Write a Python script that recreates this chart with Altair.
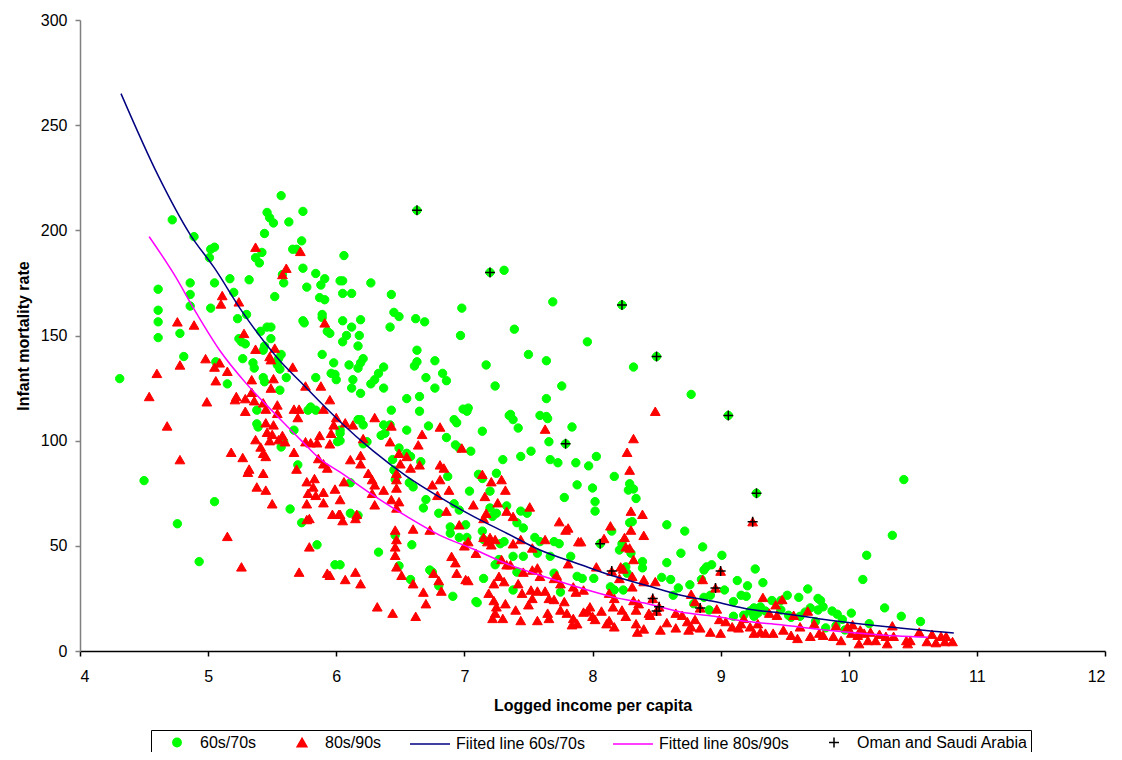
import altair as alt
import pandas as pd

# ---- data (x = logged income per capita, y = infant mortality rate) ----
green_pts = [
    (4.31,129.5),(4.50,81),(4.76,60.5),(4.93,42.5),(5.05,71),(4.72,205),(4.89,197),(4.61,172),(4.61,162),
    (4.61,156.5),(4.61,149),(4.86,175),(4.86,169.5),(4.86,164),(4.78,151),(4.81,140),
    (5.57,216.5),(5.74,209),(5.46,208.5),(5.48,206),(5.51,203.5),(5.63,204),(5.44,198.5),(5.73,195),
    (5.66,191),(5.69,191),(5.02,191),(5.05,192),(5.01,187),(5.37,187),(5.40,184.5),(5.42,189.5),(5.74,182),
    (5.84,179.5),(5.91,177),(5.88,174),(5.77,173),(6.03,176),(5.58,179),(5.59,175),(5.32,176.5),(5.17,177),
    (5.05,175),(5.20,170.5),(5.02,163),(5.52,168.5),(5.87,168),(5.91,167),(5.23,158),(5.30,160),(5.89,160),
    (5.89,158.5),(5.74,157),(5.75,156),(5.41,152),(5.46,154),(5.49,154),(5.49,148.5),(5.24,148.5),(5.26,147),
    (5.29,146),(5.44,145),(5.43,143),(5.27,139),(5.35,137),(5.36,134.5),(5.57,141),(5.55,139),(5.54,136),
    (5.43,130),(5.44,128),(5.56,124),(5.56,134),(5.61,130),(5.15,127),(5.06,137.5),(5.89,141),(5.98,137),
    (5.95,151),(5.93,152),(5.99,131.5),(5.96,132),(5.84,130),(6.0,129),(5.80,116),(5.84,114.5),(5.38,114.5),
    (6.63,209.5),(7.20,180),(7.31,181),(6.06,188),(6.05,176),(6.05,170),(6.12,170),(6.27,175),(6.43,169.5),
    (7.69,166),(6.98,163),(6.45,161),(6.49,159),(6.62,158),(6.69,156.5),(6.05,157),(6.19,157.5),(6.12,154),
    (6.42,154),(7.39,153),(6.97,150),(6.08,150),(6.18,150),(6.05,147),(6.17,145),(6.63,143),(7.50,141),
    (7.64,138),(7.17,136),(6.77,138),(6.21,139),(6.19,137),(6.17,134.5),(6.10,136),(6.37,135),(6.33,132),
    (6.30,129),(6.27,127),(6.63,137.5),(6.61,135.5),(6.70,130),(6.83,132),(6.86,128.5),(6.77,125),(6.13,129),
    (6.12,125),(6.19,122.5),(6.37,125),(7.24,126),(7.76,126),(7.64,120),(6.55,120),(6.65,121),(6.65,114),
    (6.99,115),(7.03,115.5),(7.59,112),(7.64,111.5),(7.35,112),
    (8.23,164.5),(7.96,147),(8.50,140),(8.32,135),(8.77,122),(9.06,112),(8.03,92.5),(7.97,88),(8.17,83),
    (8.0,77.5),(8.29,79.5),(8.32,77),(8.28,76.5),(10.43,81.5),(9.28,75),(8.34,72.5),
    (10.34,55),(10.14,45.5),(10.11,34),(10.28,20.5),(10.41,16.5),(10.56,14),(10.16,13),(10.02,18),(9.87,19),
    (9.91,17.5),(9.95,15),(9.80,21),(9.78,24),
    (8.02,71),(8.02,66.5),(8.29,61),(8.31,61.5),(8.15,57),(8.06,51),(8.21,48),(8.23,51),(8.30,46.5),
    (8.39,42.5),(8.39,39.5),(8.26,40),(8.27,37),(8.01,34.5),(8.14,30.5),(8.17,29),(8.24,29),(8.58,60),
    (8.72,57),(8.86,49.5),(9.01,45.5),(8.69,46.5),(8.58,42),(8.54,35),(8.61,34),(8.89,40),(8.93,41),
    (8.87,38.5),(9.27,39),(8.85,34),(8.76,31.5),(8.67,30),(8.63,26.5),(9.13,33.5),(9.21,31),(9.33,32.5),
    (9.03,29),(8.87,25.5),(8.92,26.5),(8.79,22.5),(8.91,19.5),(9.10,23.5),(9.16,26.5),(9.20,26),(9.26,20.5),
    (9.31,21),(9.23,19),(9.29,18),(9.35,19),(9.10,16.5),(9.52,26.5),(9.61,25.5),(9.68,29.5),(9.76,25),
    (9.47,19.5),(9.53,17),(9.62,16.5),(9.70,20.5),(9.76,19.5),(9.40,24),(9.18,17),(9.26,16.5),(7.92,34.5),
    (6.43,114.5),(6.17,110),(6.21,107.5),(6.19,110),(6.37,107.5),(6.42,107.5),(6.35,102.5),(6.38,103.5),
    (6.21,98.5),(6.24,99.5),(6.55,105),(6.72,107),(6.86,101.5),(6.92,110),(6.94,108.5),(7.02,114),(6.93,98),
    (6.96,96.5),(7.05,95),(7.14,104.5),(7.36,112.5),(7.38,110),(7.42,106),(7.65,110.5),(7.84,106.5),
    (7.66,99.5),(7.52,95),(7.44,92.5),(7.30,91),(7.67,91),(7.73,89.5),(7.87,89.5),(7.78,73),(7.88,79),
    (7.79,98.5),(6.03,103.5),(6.03,100),(6.44,91),(6.45,86),(6.47,83),(6.46,81.5),(6.49,96.5),(6.55,94),
    (6.58,92.5),(6.66,90),(6.57,80),(6.60,78),(6.70,72),(6.68,68),(6.87,83),(7.11,84),(7.14,82),(7.25,84.5),
    (7.04,76),(7.20,76),(6.92,70),(6.96,67),(6.80,65.5),(6.89,59),(6.89,56),(6.96,54),(7.01,60),(7.02,54),
    (7.14,57),(7.15,53),(7.20,68),(7.25,65.5),(7.22,64),(7.33,69),(7.41,61),(7.46,58.5),(7.44,66.5),
    (7.49,65.5),(7.31,52),(7.28,51),(7.38,45),(7.46,45),(7.55,54),(7.59,52),(7.57,46.5),(7.70,52),(7.74,51),
    (7.67,45),(7.83,45),(7.24,41),(7.27,43.5),(7.41,37.5),(7.70,37),(7.75,28),(7.88,35.5),(7.38,29),
    (7.15,34.5),(7.10,23),(7.09,23.5),(6.91,26),(6.75,37.5),(6.73,38.5),(6.80,31),(6.58,34),(6.33,47),
    (6.59,50.5),(6.46,55),(6.49,40.5),(6.11,80),(6.11,65.5),(6.17,64.5),(6.03,41),
    (5.38,108),(5.39,106.5),(5.67,105),(5.57,97),(5.59,99.5),(5.70,88.5),(5.64,67.5),(5.73,61),(5.85,50.5),
    (5.99,41),(6.01,99.5),(6.03,105),(5.78,114.5),
    (9.47,24),(9.55,16),(9.66,18.5),(9.74,14),(9.82,11),(9.90,12),(9.97,10),
]

red_pts = [
    (5.37,192),(5.72,190),(5.61,182),(5.58,179),(5.11,169),(5.10,165),(5.24,166),(4.76,156.5),(4.89,155),
    (5.91,156),(5.28,151),(5.37,143.5),(5.52,144),(5.48,140),(5.49,138.5),(5.66,135),(4.98,139),(4.78,136),
    (5.09,137),(5.05,135),(5.15,133),(4.60,132),(5.06,128.5),(5.34,129),(5.51,129.5),(5.49,125),(5.76,126),
    (5.88,126),(4.54,121),(4.99,118.5),(5.22,121),(5.21,119.5),(5.29,120),(5.34,123),(5.36,119),(5.43,118),
    (5.45,115),(5.54,117),(5.54,113),(5.67,115),(5.71,115),(5.70,111),(5.29,114),(5.90,115),(5.95,119.5),
    (6.0,111),
    (4.68,107),(4.78,91),(5.18,94.5),(5.27,92),(5.32,86.5),(5.31,85),(5.43,84.5),(5.38,78),(5.45,76.5),
    (5.50,70),(5.15,54.5),(5.26,40),(5.71,37.5),(5.93,37),(5.79,49.5),(5.77,62.5),(5.79,63),(5.77,70),
    (5.90,70.5),(5.97,65),(6.02,65),(5.77,80.5),(5.83,82),(5.82,78),(5.78,75),(5.84,74),(5.90,75.5),
    (5.99,77),(5.69,86.5),(5.67,94.5),(5.45,108.5),(5.51,107.5),(5.46,104),(5.50,103),(5.48,100),
    (5.55,100.5),(5.58,102.5),(5.60,99.5),(5.37,100.5),(5.41,97),(5.43,94),(5.45,92.5),(5.76,99.5),
    (5.80,99),(5.85,99),(5.87,102.5),(5.95,98.5),(5.96,103.5),(5.98,107.5),(5.86,91.5),(5.90,89),(5.93,87),
    (6.07,108.5),(6.13,107.5),(6.30,111),(6.21,101),(6.43,107),(6.42,99.5),(6.67,103),(6.64,98),(6.81,106.5),
    (6.98,96.5),(7.63,105.5),(6.11,91),(6.19,93),(6.19,89),(6.49,94),(6.55,92.5),(6.50,89),(6.58,87),
    (6.65,88.5),(6.25,84.5),(6.28,81.5),(6.30,79),(6.37,76.5),(6.28,75),(6.06,80.5),(6.47,84.5),(6.47,81.5),
    (6.47,77.5),(6.43,72),(6.49,71),(6.47,68),(6.30,69.5),(6.81,88.5),(6.84,87),(6.75,79),(6.81,81.5),
    (6.88,76.5),(6.79,74),(6.86,66.5),(6.73,57.5),(6.60,58),(6.16,65),(6.15,63),(6.46,57.5),(6.47,53),
    (6.46,49.5),(6.46,45.5),(6.47,40),(6.51,36),(6.07,34),(6.19,32),(6.32,21),(6.44,18),(6.62,16.5),
    (6.60,32),(6.68,28),(6.70,22.5),(6.76,37),(6.80,33.5),(6.82,28.5),(6.90,45),(6.93,42),(6.94,37),
    (6.96,60),(7.0,50),(7.03,52),(7.09,46.5),(7.01,34),(7.03,33.5),(7.07,69.5),(7.14,84),(7.16,73.5),
    (7.21,80.5),(7.29,81.5),(7.32,76.5),(7.15,63),(7.17,65.5),(7.26,70.5),(7.33,66.5),(7.38,64),(7.51,68.5),
    (7.15,54),(7.18,52),(7.20,54),(7.24,53),(7.21,50.5),(7.29,43.5),(7.33,41),(7.36,41),(7.23,32),
    (7.27,35.5),(7.31,33),(7.19,27.5),(7.23,24),(7.25,21),(7.24,18),(7.30,15.5),(7.22,15.5),(7.42,32),
    (7.45,27.5),(7.52,29),(7.53,25),(7.57,28.5),(7.44,14.5),(7.57,14.5),(7.38,51),(7.44,53),(7.53,49),
    (7.63,53),(7.46,37.5),(7.53,38.5),(7.57,39.5),(7.59,35.5),(7.63,28.5),(7.66,25),(7.70,24.5),(7.65,18),
    (7.66,15.5),(7.70,34.5),(7.75,32),(7.72,36),(7.74,61.5),(7.79,57.5),(7.81,58.5),(7.81,41.5),(7.85,30.5),
    (7.87,28),(7.78,23.5),(7.80,18),(7.85,15.5),(7.88,13),(7.89,52),(6.03,72),(6.03,65),
    (8.49,114),(8.32,101),(8.27,94.5),(8.29,86),(8.30,66.5),(8.39,65),(8.14,59.5),(8.09,53.5),(8.25,54),
    (8.30,57.5),(8.40,55),(8.26,49.5),(8.29,49),(8.32,43.5),(8.22,40),(8.24,39),(8.03,40),(8.15,38),
    (8.21,34.5),(8.31,35.5),(8.31,30.5),(8.40,34),(8.40,33),(8.49,33),(7.93,29),(8.13,27.5),(8.17,25),
    (8.16,21),(7.98,21),(7.96,19),(8.0,16.5),(8.07,19),(8.23,19.5),(8.32,24),(8.36,22.5),(8.34,19.5),
    (8.47,25),(8.52,21),(8.50,19),(8.44,18),(8.45,17),(8.13,14.5),(8.17,11.5),(8.11,13),(8.26,16.5),
    (8.34,13),(8.35,9),(8.40,10.5),(8.58,13.5),(8.65,18),(8.70,17),(8.77,27),(8.74,14),(8.77,11.5),
    (8.75,10),(8.84,20.5),(8.80,23.5),(8.80,15),(8.86,34),(8.96,30),(9.0,38),(9.25,61.5),(8.97,20),
    (8.99,15),(9.0,8.5),(9.09,11.5),(9.14,11),(9.18,15.5),(9.23,11.5),(9.26,8.5),(9.31,9),(9.29,13),
    (9.33,25.5),(9.38,18),(9.44,17),(9.48,24.5),(9.43,22),(9.35,8.5),(9.41,8.5),(9.49,10),(9.55,7.5),
    (9.57,17),(9.62,11.5),(9.68,19),(9.73,13),(9.60,6),(9.70,7),(9.77,8.5),(7.91,52),
    (9.80,7.5),(9.90,12),(9.88,7),(9.94,5),(9.99,11.5),(10.03,12.5),(10.02,8.5),(10.07,7.5),(10.09,10),
    (10.12,8.5),(10.08,3.5),(10.15,5),(10.17,9),(10.21,5),(10.24,8),(10.29,7),(10.30,3.5),(10.35,7),
    (10.34,12),(10.45,5),(10.48,5),(10.46,3.5),(10.55,9),(10.61,4.5),(10.65,8),(10.68,4),(10.72,7),
    (10.76,7),(10.75,4.5),(10.81,4.5),
    (7.32,22.5),(7.40,19.5),(7.50,22),(7.75,19.5),(7.93,18.5),(8.02,15),(7.84,12.5),(8.53,10),(8.65,11),
    (8.84,11),(8.92,9),(9.04,14),(9.16,13),(5.95,36),(6.15,37.5),(6.05,62),
]

oman_pts = [
    (6.63,209.5),(7.20,180),(8.23,164.5),(8.50,140),(9.06,112),(7.79,98.5),(9.28,75),(9.25,61.5),
    (8.06,51),(9.0,38),(8.15,38),(8.96,30),(8.47,25),(8.84,20.5),(8.52,21),(8.50,19),
]

fit_6070 = [
    (4.32,265),(4.61,226),(4.86,198),(5.05,182),(5.27,161),(5.56,138),(5.72,128),(5.88,118),(6.03,109),
    (6.29,95),(6.55,83),(6.81,73),(7.07,64),(7.33,56),(7.59,48),(7.91,41),(8.17,35.5),(8.43,31),
    (8.69,26.5),(8.95,23.5),(9.21,20),(9.47,18),(9.75,15.5),(10.30,11.5),(10.82,8.5),
]

fit_8090 = [
    (4.54,197),(4.73,179.5),(4.91,160.5),(5.09,143),(5.30,127),(5.51,113.5),(5.72,100.5),(5.88,91),
    (6.03,85),(6.29,74),(6.55,64),(6.81,55),(7.07,48.5),(7.33,41.5),(7.59,36),(7.85,31),(8.17,25.5),
    (8.43,22.5),(8.69,18.5),(8.95,16.5),(9.21,14),(9.47,12.5),(9.75,10.5),(10.17,8),(10.62,6.5),
]

SERIES = ["60s/70s", "80s/90s", "Fiited line 60s/70s", "Fitted line 80s/90s", "Oman and Saudi Arabia"]
COLORS = ["#00FF00", "#FF0000", "#000080", "#FF00FF", "#000000"]
PLUS = "M-1,0H1M0,-1V1"
LINE_SYM = "M-2,0H2"
SHAPES = ["circle", "triangle-up", LINE_SYM, LINE_SYM, PLUS]
SIZES = [70, 95, 400, 400, 100]
X_TICKS = [4, 5, 6, 7, 8, 9, 10, 11, 12]
Y_TICKS = [0, 50, 100, 150, 200, 250, 300]


def frame(pts, name):
    return pd.DataFrame({"x": [p[0] for p in pts], "y": [p[1] for p in pts], "series": name})


df_g = frame(green_pts, SERIES[0])
df_r = frame(red_pts, SERIES[1])
df_b = frame(fit_6070, SERIES[2])
df_m = frame(fit_8090, SERIES[3])
df_o = frame(oman_pts, SERIES[4])

FONT = "Liberation Sans"


def make_legend():
    return alt.Legend(
        title=None, orient="none", legendX=71, legendY=710, direction="horizontal",
        strokeColor="black", fillColor="white", padding=3,
        labelFont=FONT, labelFontSize=16, labelColor="black", labelOffset=15, labelLimit=400,
        columnPadding=22, symbolStrokeWidth=1.5, symbolOpacity=1, symbolOffset=15,
    )


fill_enc = alt.Fill("series:N", scale=alt.Scale(domain=SERIES, range=COLORS), legend=make_legend())
stroke_enc = alt.Stroke("series:N", scale=alt.Scale(domain=SERIES, range=COLORS), legend=make_legend())
shape_enc = alt.Shape("series:N", scale=alt.Scale(domain=SERIES, range=SHAPES), legend=make_legend())
size_enc = alt.Size("series:N", scale=alt.Scale(type="ordinal", domain=SERIES, range=SIZES), legend=make_legend())

xenc = alt.X("x:Q", scale=alt.Scale(domain=[4, 12], nice=False, zero=False),
             axis=alt.Axis(values=X_TICKS, title="Logged income per capita", domainColor="black",
                           tickColor="black", labelPadding=12, titlePadding=13))
yenc = alt.Y("y:Q", scale=alt.Scale(domain=[0, 300], nice=False),
             axis=alt.Axis(values=Y_TICKS, title="Infant mortality rate", domainColor="#808080",
                           tickColor="#808080", labelPadding=8, titlePadding=9))

green = alt.Chart(df_g).mark_point(filled=True, opacity=1, strokeWidth=1).encode(
    x=xenc, y=yenc, fill=fill_enc, stroke=stroke_enc, shape=shape_enc, size=size_enc)
red = alt.Chart(df_r).mark_point(filled=True, opacity=1, strokeWidth=1).encode(
    x=xenc, y=yenc, fill=fill_enc, stroke=stroke_enc, shape=shape_enc, size=size_enc)
blue = alt.Chart(df_b).mark_line(strokeWidth=1.5, interpolate="monotone").encode(
    x=xenc, y=yenc, stroke=stroke_enc)
mag = alt.Chart(df_m).mark_line(strokeWidth=1.5, interpolate="monotone").encode(
    x=xenc, y=yenc, stroke=stroke_enc)
plus = alt.Chart(df_o).mark_point(filled=False, strokeWidth=1.5, opacity=1).encode(
    x=xenc, y=yenc, stroke=stroke_enc, shape=shape_enc, size=size_enc)

chart = alt.layer(green, red, blue, mag, plus).properties(
    width=1025, height=631,
    padding={"left": 72, "top": 12, "right": 9, "bottom": 101},
    autosize=alt.AutoSizeParams(type="none"),
).configure_view(stroke=None).configure_axis(
    grid=False, labelFont=FONT, labelFontSize=16, labelColor="black",
    titleFont=FONT, titleFontSize=16, titleFontWeight="bold", titleColor="black",
    tickSize=5, domainWidth=1.5, tickWidth=1.5,
)

chart.save("out.html", embed_options={"renderer": "svg", "actions": False})
